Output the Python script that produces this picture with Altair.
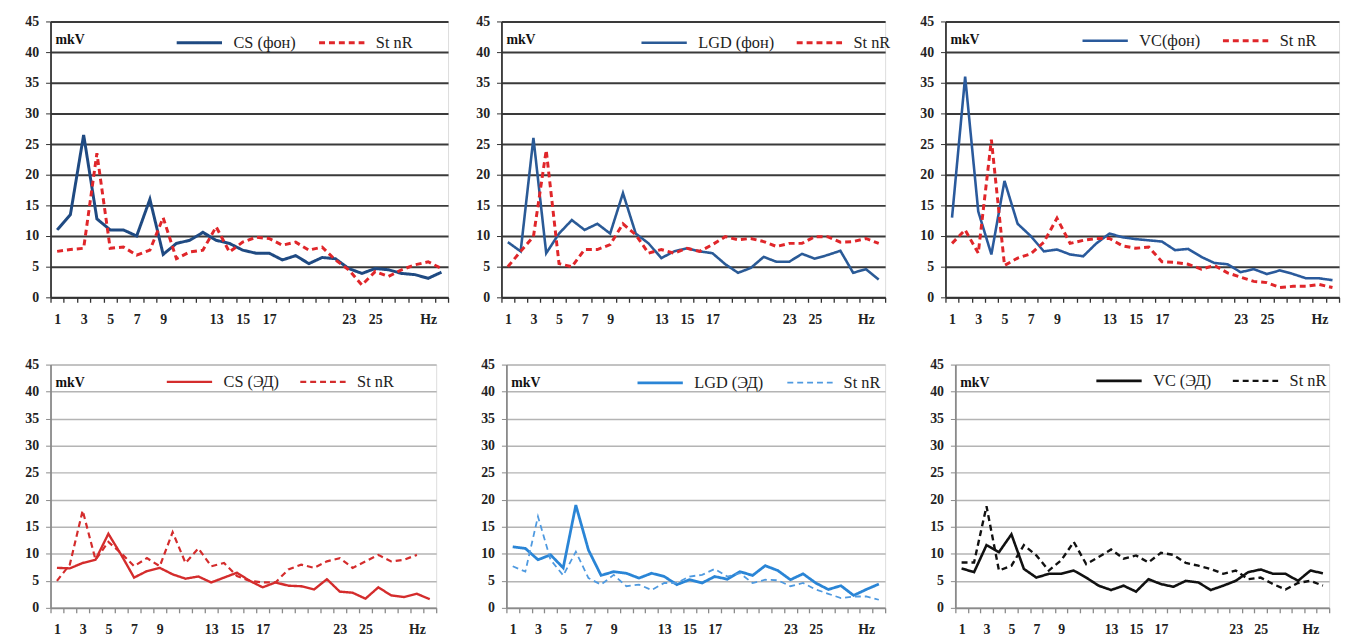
import altair as alt
import pandas as pd

# ---------------- data ----------------
hz = list(range(1, 31))
labeled_hz = [1, 3, 5, 7, 9, 13, 15, 17, 23, 25]
hz_label_pos = 29

cs_fon = [11, 13.5, 26.5, 12.8, 11, 11, 10, 16, 7, 8.8, 9.3, 10.6, 9.3, 8.8, 7.7,
          7.2, 7.2, 6.1, 6.8, 5.5, 6.5, 6.3, 4.7, 3.9, 4.7, 4.5, 3.9, 3.7, 3.1, 4.1]
stnr_cs_fon = [7.5, 7.8, 8, 23.5, 8, 8.2, 6.9, 7.7, 13, 6.3, 7.4, 7.7, 11.5, 7.4, 9,
               9.8, 9.6, 8.5, 9, 7.7, 8.2, 6.1, 4.5, 2, 4.2, 3.4, 4.5, 5.3, 5.8, 4.7]

lgd_fon = [9, 7.5, 26, 7.2, 10.4, 12.6, 11, 12, 10.4, 17, 10.4, 8.8, 6.4, 7.5, 8,
           7.5, 7.2, 5.4, 4, 4.8, 6.6, 5.8, 5.8, 7.1, 6.3, 6.9, 7.6, 4, 4.6, 2.9]
stnr_lgd_fon = [5, 7.5, 9.9, 24, 5.5, 5, 7.8, 7.8, 8.6, 12, 10.2, 7.2, 7.8, 7.2, 8,
                7.5, 8.6, 9.9, 9.4, 9.6, 9.1, 8.3, 8.8, 8.8, 9.9, 9.9, 9, 9.1, 9.6, 8.8]

vc_fon = [13, 36, 14, 7, 19, 12, 10, 7.5, 7.8, 7, 6.7, 8.8, 10.4, 9.8, 9.5,
          9.3, 9.1, 7.7, 7.9, 6.6, 5.6, 5.4, 4.1, 4.6, 3.8, 4.4, 3.8, 3.1, 3.1, 2.8]
stnr_vc_fon = [8.8, 11, 7.2, 25.7, 5.2, 6.4, 7.1, 9, 12.9, 8.8, 9.3, 9.6, 9.6, 8.4, 8,
               8.2, 5.8, 5.7, 5.4, 4.6, 5.2, 4, 3.3, 2.6, 2.4, 1.6, 1.8, 1.8, 2.1, 1.6]

cs_ed = [7.4, 7.3, 8.3, 8.9, 13.7, 9.8, 5.6, 6.8, 7.4, 6.2, 5.4, 5.8, 4.7, 5.6, 6.5,
         5, 3.8, 4.7, 4.1, 4, 3.4, 5.3, 3, 2.8, 1.7, 3.8, 2.3, 2, 2.6, 1.6]
stnr_cs_ed = [5, 8, 18, 8.9, 12.2, 10.1, 7.7, 9.2, 7.7, 14, 8.3, 11, 7.7, 8.3, 5.9,
              5, 4.7, 4.7, 7.1, 8, 7.4, 8.6, 9.2, 7.4, 8.6, 9.8, 8.6, 8.9, 9.8, None]

lgd_ed = [11.3, 11, 8.9, 9.8, 7.4, 19, 10.7, 6, 6.7, 6.4, 5.5, 6.4, 5.8, 4.3, 5.2,
          4.6, 5.8, 5.3, 6.7, 6, 7.8, 6.9, 5.2, 6.3, 4.6, 3.4, 4.1, 2.3, 3.4, 4.4]
stnr_lgd_ed = [7.7, 6.7, 16.9, 8.9, 6, 10.4, 5.5, 4.3, 6.1, 4, 4.3, 3.3, 4.6, 4.6, 5.8,
               6.1, 7.2, 5.8, 6.4, 4.6, 5.2, 5.1, 4, 4.6, 3.4, 2.6, 1.8, 2.1, 2.1, 1.5]

vc_ed = [7.3, 6.6, 11.6, 10.3, 13.6, 7.2, 5.6, 6.3, 6.3, 6.9, 5.6, 4.1, 3.3, 4.1, 3,
         5.3, 4.4, 3.9, 5, 4.7, 3.3, 4.1, 5, 6.6, 7.1, 6.3, 6.3, 5, 6.9, 6.4]
stnr_vc_ed = [8.4, 8.4, 18.8, 6.9, 7.8, 11.6, 9.7, 6.9, 8.8, 12.2, 8.1, 9.4, 10.8, 9.1, 9.7,
              8.4, 10.2, 9.8, 8.3, 7.8, 7.2, 6.3, 6.9, 5.3, 5.6, 4.4, 3.4, 4.6, 5, 4.1]

STNR = "St nR"
SERIF = "Liberation Serif"

label_expr = (
    f"datum.value == {hz_label_pos} ? 'Hz' : "
    f"(indexof({labeled_hz}, datum.value) >= 0 ? datum.label : '')"
)


def panel(name, main, stnr, c_main, c_stnr, w, h, lx, ly, dark, sw_main, sw_stnr, yext):
    df = pd.DataFrame({
        "Hz": hz + hz,
        "v": main + stnr,
        "s": [name] * len(hz) + [STNR] * len(hz),
    }).dropna()
    grid_c = "#3a3a3a" if dark else "#b4b4b4"
    grid_w = 2 if dark else 1.5
    dom_c = "#333333" if dark else "#8a8a8a"
    leg = alt.Legend(
        orient="none", legendX=lx, legendY=ly, direction="horizontal",
        symbolType="stroke", symbolSize=2100, symbolStrokeWidth=2.8,
        labelFont=SERIF, labelFontSize=16.5, labelColor="#222222",
        columnPadding=16, labelOffset=10, padding=0,
    )
    lines = alt.Chart(df).mark_line().encode(
        x=alt.X("Hz:O", sort=hz, title=None,
                scale=alt.Scale(type="band", paddingInner=0, paddingOuter=0),
                axis=alt.Axis(tickBand="extent", labelExpr=label_expr, labelOverlap=False,
                              labelAngle=0, grid=False, domainColor=dom_c, domainWidth=1.8,
                              tickColor=dom_c, tickSize=5, tickWidth=1.3,
                              labelFont=SERIF, labelFontSize=14, labelFontWeight="bold",
                              labelColor="#222222", labelPadding=10,
                              minExtent=34, maxExtent=34)),
        y=alt.Y("v:Q", title=None, scale=alt.Scale(domain=[0, 45], nice=False),
                axis=alt.Axis(values=list(range(0, 46, 5)), grid=True, gridColor=grid_c,
                              gridWidth=grid_w, domainColor=dom_c, domainWidth=1.8,
                              tickColor=dom_c, tickSize=5, labelFont=SERIF,
                              labelFontSize=14, labelFontWeight="bold", labelColor="#222222",
                              labelPadding=7, minExtent=yext, maxExtent=yext)),
        color=alt.Color("s:N", title=None,
                        scale=alt.Scale(domain=[name, STNR], range=[c_main, c_stnr]),
                        legend=leg),
        strokeDash=alt.StrokeDash("s:N", title=None,
                                  scale=alt.Scale(domain=[name, STNR], range=[[1, 0], [6, 4]]),
                                  legend=leg),
        strokeWidth=alt.StrokeWidth("s:N", legend=None,
                                    scale=alt.Scale(domain=[name, STNR], range=[sw_main, sw_stnr])),
    )
    mkv = alt.Chart(pd.DataFrame({"t": ["mkV"]})).mark_text(
        align="left", baseline="middle", font=SERIF, fontWeight="bold", fontSize=14,
        color="#111111",
    ).encode(text="t:N", x=alt.value(5), y=alt.value(19))
    return alt.layer(lines, mkv).properties(width=w, height=h)


res = dict(color="independent", strokeDash="independent", strokeWidth="independent",
           x="independent", y="independent")

top = alt.hconcat(
    panel("CS (фон)", cs_fon, stnr_cs_fon, "#1f4a82", "#e0262a", 402, 279, 126, -3, True, 3, 3, 35),
    panel("LGD (фон)", lgd_fon, stnr_lgd_fon, "#2a5a96", "#e0262a", 388, 279, 140, -3, True, 2.6, 3, 35),
    panel("VC(фон)", vc_fon, stnr_vc_fon, "#2a5a9c", "#e0262a", 398, 279, 137, -5, True, 2.6, 3, 37),
    spacing=16,
).resolve_scale(**res)

bottom = alt.hconcat(
    panel("CS (ЭД)", cs_ed, stnr_cs_ed, "#d42c2c", "#d42c2c", 390, 246, 116, -7, False, 2.4, 2.2, 40),
    panel("LGD  (ЭД)", lgd_ed, stnr_lgd_ed, "#2a85d6", "#4f9ae0", 383, 246, 131, -6, False, 2.8, 1.8, 40),
    panel("VC (ЭД)", vc_ed, stnr_vc_ed, "#111111", "#111111", 378, 246, 141, -8, False, 2.6, 2.4, 40),
    spacing=28,
).resolve_scale(**res)

chart = alt.vconcat(top, bottom, spacing=24).resolve_scale(**res).properties(
    padding=2
).configure_view(stroke=None).configure(background="white")

chart.save("out.html", embed_options={"renderer": "svg", "actions": False})
